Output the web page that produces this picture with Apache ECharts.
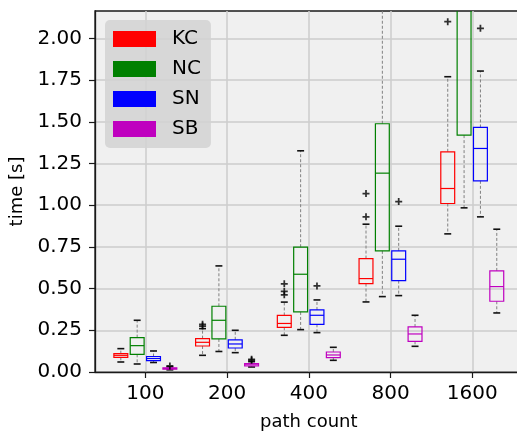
<!DOCTYPE html>
<html>
<head>
<meta charset="utf-8">
<script src="https://cdn.jsdelivr.net/npm/echarts@6/dist/echarts.min.js"></script>
<style>
  html, body { margin: 0; padding: 0; background: #fff; }
  #chart { width: 517px; height: 437px; }
</style>
</head>
<body>
<div id="chart"></div>
<script>
// Path counts on the x axis
const categories = ['100', '200', '400', '800', '1600'];
const seriesNames = ['KC', 'NC', 'SN', 'SB'];
const yTicks = [0, 0.25, 0.5, 0.75, 1.0, 1.25, 1.5, 1.75, 2.0];

// Box statistics per path count: [lower whisker, Q1, median, Q3, upper whisker]
const kcStats = [
  [0.060, 0.088, 0.100, 0.110, 0.140],
  [0.100, 0.156, 0.178, 0.200, 0.260],
  [0.220, 0.268, 0.291, 0.339, 0.419],
  [0.420, 0.530, 0.560, 0.680, 0.886],
  [0.828, 1.010, 1.100, 1.320, 1.770]
];
const ncStats = [
  [0.048, 0.106, 0.158, 0.206, 0.310],
  [0.123, 0.198, 0.310, 0.394, 0.636],
  [0.254, 0.360, 0.586, 0.748, 1.326],
  [0.452, 0.726, 1.192, 1.488, 2.550],
  [0.984, 1.420, 2.350, 2.850, 3.900]
];
const snStats = [
  [0.057, 0.068, 0.081, 0.093, 0.126],
  [0.116, 0.144, 0.168, 0.193, 0.250],
  [0.236, 0.286, 0.340, 0.372, 0.432],
  [0.458, 0.548, 0.676, 0.726, 0.874],
  [0.930, 1.146, 1.340, 1.466, 1.804]
];
const sbStats = [
  [0.013, 0.017, 0.021, 0.025, 0.031],
  [0.030, 0.036, 0.043, 0.050, 0.062],
  [0.070, 0.086, 0.102, 0.120, 0.148],
  [0.154, 0.184, 0.228, 0.270, 0.340],
  [0.354, 0.424, 0.512, 0.606, 0.856]
];

// Outlying runs per path count
const kcOutliers = [[], [0.275, 0.286], [0.463, 0.483, 0.529], [0.930, 1.070], [2.100]];
const ncOutliers = [[], [], [], [], []];
const snOutliers = [[], [], [0.516], [1.022], [2.060]];
const sbOutliers = [[0.036], [0.070, 0.076], [], [], []];

const statsBySeries = [kcStats, ncStats, snStats, sbStats];
const outliersBySeries = [kcOutliers, ncOutliers, snOutliers, sbOutliers];
const colors = ['#ff0000', '#008000', '#0000ff', '#bf00bf'];

// Layout of the boxes inside each group (in category units)
const groupOffsets = [-0.3, -0.1, 0.1, 0.3];
const boxWidth = 0.17;

function renderBox(color) {
  return function (params, api) {
    const x = api.value(0);
    const lo = api.coord([x, api.value(1)]);
    const q1 = api.coord([x, api.value(2)]);
    const md = api.coord([x, api.value(3)]);
    const q3 = api.coord([x, api.value(4)]);
    const hi = api.coord([x, api.value(5)]);
    const hw = api.size([boxWidth, 0])[0] / 2;
    const cx = md[0];
    const whisk = { stroke: '#808080', lineWidth: 1, lineDash: [3, 2] };
    const cap = { stroke: '#111', lineWidth: 1.6 };
    return {
      type: 'group',
      children: [
        { type: 'line', shape: { x1: cx, y1: q1[1], x2: cx, y2: lo[1] }, style: whisk },
        { type: 'line', shape: { x1: cx, y1: q3[1], x2: cx, y2: hi[1] }, style: whisk },
        { type: 'line', shape: { x1: cx - hw / 2, y1: lo[1], x2: cx + hw / 2, y2: lo[1] }, style: cap },
        { type: 'line', shape: { x1: cx - hw / 2, y1: hi[1], x2: cx + hw / 2, y2: hi[1] }, style: cap },
        { type: 'rect', shape: { x: cx - hw, y: q3[1], width: hw * 2, height: q1[1] - q3[1] },
          style: { fill: 'none', stroke: color, lineWidth: 1.2 } },
        { type: 'line', shape: { x1: cx - hw, y1: md[1], x2: cx + hw, y2: md[1] },
          style: { stroke: color, lineWidth: 1.2 } }
      ]
    };
  };
}

const series = [];
seriesNames.forEach(function (name, s) {
  const data = statsBySeries[s].map(function (st, g) {
    return [g + groupOffsets[s]].concat(st);
  });
  series.push({
    name: name,
    type: 'custom',
    clip: true,
    itemStyle: { color: colors[s] },
    renderItem: renderBox(colors[s]),
    encode: { x: 0, y: [1, 2, 3, 4, 5] },
    data: data,
    z: 3
  });
});
seriesNames.forEach(function (name, s) {
  const pts = [];
  outliersBySeries[s].forEach(function (vals, g) {
    vals.forEach(function (v) { pts.push([g + groupOffsets[s], v]); });
  });
  series.push({
    name: name + '-outliers',
    type: 'scatter',
    symbol: 'path://M3,0H5V3H8V5H5V8H3V5H0V3H3Z',
    symbolSize: 7,
    itemStyle: { color: '#000' },
    silent: true,
    clip: true,
    data: pts,
    z: 4
  });
});

const chart = echarts.init(document.getElementById('chart'), null, { renderer: 'canvas' });
chart.setOption({
  animation: false,
  backgroundColor: '#ffffff',
  textStyle: { fontFamily: 'DejaVu Sans' },
  grid: {
    left: 95, top: 11, right: -5.6, bottom: 65,
    outerBoundsMode: 'none',
    containLabel: false,
    show: true, backgroundColor: '#f0f0f0', borderColor: '#1a1a1a', borderWidth: 1.3
  },
  legend: {
    orient: 'vertical',
    left: 105, top: 20,
    padding: [9, 10, 9, 8],
    backgroundColor: 'rgba(210,210,210,0.85)',
    borderRadius: 5,
    itemWidth: 43, itemHeight: 16, itemGap: 10,
    icon: 'rect',
    data: seriesNames,
    textStyle: { fontSize: 20, color: '#000', padding: [0, 0, 0, 11], fontFamily: 'DejaVu Sans' }
  },
  xAxis: {
    type: 'value',
    min: -0.616, max: 4.616,
    name: 'path count',
    nameLocation: 'middle', nameGap: 41,
    nameTextStyle: { fontSize: 18, color: '#000' },
    axisLine: { show: true, onZero: false, lineStyle: { color: '#1a1a1a', width: 1.3 } },
    axisTick: { show: true, length: 6, customValues: [0, 1, 2, 3, 4], lineStyle: { color: '#1a1a1a', width: 1.2 } },
    axisLabel: {
      customValues: [0, 1, 2, 3, 4], margin: 12, fontSize: 20, color: '#000',
      formatter: function (v) { return categories[Math.round(v)]; }
    },
    splitLine: { show: true, lineStyle: { color: '#cccccc', width: 1.5 } }
  },
  yAxis: {
    type: 'value',
    min: 0, max: 2.164,
    name: 'time [s]',
    nameLocation: 'middle', nameGap: 66, nameRotate: 90,
    nameTextStyle: { fontSize: 18, color: '#000' },
    axisLine: { show: true, onZero: false, lineStyle: { color: '#1a1a1a', width: 1.3 } },
    axisTick: { show: true, length: 6, customValues: yTicks, lineStyle: { color: '#1a1a1a', width: 1.2 } },
    axisLabel: {
      customValues: yTicks, margin: 13, fontSize: 20, color: '#000',
      formatter: function (v) { return v.toFixed(2); }
    },
    splitLine: { show: true, lineStyle: { color: '#cccccc', width: 1.5 } }
  },
  series: series
});
</script>
</body>
</html>
